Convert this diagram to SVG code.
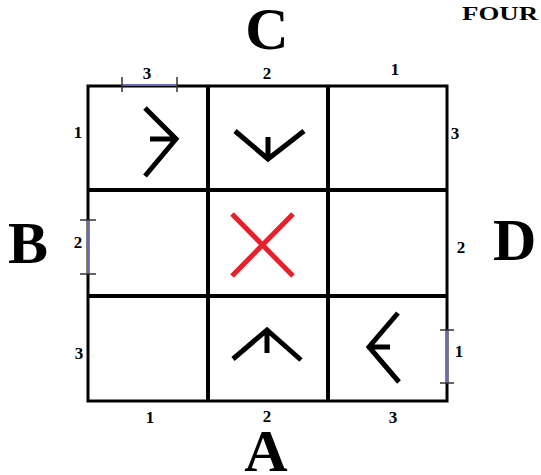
<svg xmlns="http://www.w3.org/2000/svg" width="541" height="475" viewBox="0 0 541 475">
<style>
.big{font-family:"Liberation Serif","Times New Roman",serif;font-weight:bold;font-size:60px;fill:#000}
.num{font-family:"Liberation Serif","Times New Roman",serif;font-weight:bold;font-size:17px;fill:#000;text-anchor:middle}
.outer{fill:none;stroke:#000;stroke-width:3}
.inner{stroke:#000;stroke-width:4;fill:none}
.sym{fill:none;stroke:#000;stroke-width:5;stroke-linejoin:miter;stroke-linecap:butt}
.dim{stroke:#6b6bb0;stroke-width:2}
.tick{stroke:#333;stroke-width:1.5}
</style>
<rect width="541" height="475" fill="#fff"/>
<g id="grid">
<rect class="outer" x="88" y="86" width="359" height="315"/>
<line class="inner" x1="208" y1="86" x2="208" y2="401"/>
<line class="inner" x1="328" y1="86" x2="328" y2="401"/>
<line class="inner" x1="88" y1="190" x2="447" y2="190"/>
<line class="inner" x1="88" y1="296" x2="447" y2="296"/>
</g>
<g id="cell-top-left"><path class="sym" d="M145,108 L176,139 L145,176 M150,139 L176,139"/></g>
<g id="cell-top-middle"><path class="sym" d="M235,131 L268,159 L304,131 M268,137 L268,159"/></g>
<g id="cell-center"><path fill="none" stroke="#e8202a" stroke-width="5" d="M232,214 L293,276 M293,214 L232,276"/></g>
<g id="cell-bottom-middle"><path class="sym" d="M233,359 L267,330 L301,360 M267,330 L267,353"/></g>
<g id="cell-bottom-right"><path class="sym" d="M398,313 L369,347 L399,382 M369,347 L390,347"/></g>
<g id="connectors">
<line class="dim" x1="122" y1="85" x2="177" y2="85"/>
<line class="tick" x1="122" y1="77" x2="122" y2="92"/>
<line class="tick" x1="177" y1="77" x2="177" y2="92"/>
<line class="dim" x1="88" y1="220" x2="88" y2="274"/>
<line class="tick" x1="80" y1="220" x2="96" y2="220"/>
<line class="tick" x1="80" y1="274" x2="96" y2="274"/>
<line class="dim" x1="447" y1="330" x2="447" y2="383"/>
<line class="tick" x1="440" y1="330" x2="454" y2="330"/>
<line class="tick" x1="440" y1="383" x2="454" y2="383"/>
</g>
<g id="side-labels">
<text class="big" x="267" y="49" text-anchor="middle">C</text>
<text class="big" x="8" y="263">B</text>
<text class="big" x="493" y="260">D</text>
<text class="big" x="266" y="471" text-anchor="middle">A</text>
<text x="462" y="20" font-family="Liberation Serif, serif" font-weight="bold" font-size="19" textLength="76" lengthAdjust="spacingAndGlyphs">FOUR</text>
</g>
<g id="numbers">
<text class="num" x="147" y="79">3</text>
<text class="num" x="267" y="79">2</text>
<text class="num" x="395" y="75">1</text>
<text class="num" x="78" y="138">1</text>
<text class="num" x="455" y="139">3</text>
<text class="num" x="78" y="248">2</text>
<text class="num" x="461" y="253">2</text>
<text class="num" x="79" y="359">3</text>
<text class="num" x="459" y="357">1</text>
<text class="num" x="150" y="423">1</text>
<text class="num" x="267" y="422">2</text>
<text class="num" x="393" y="423">3</text>
</g>
</svg>
